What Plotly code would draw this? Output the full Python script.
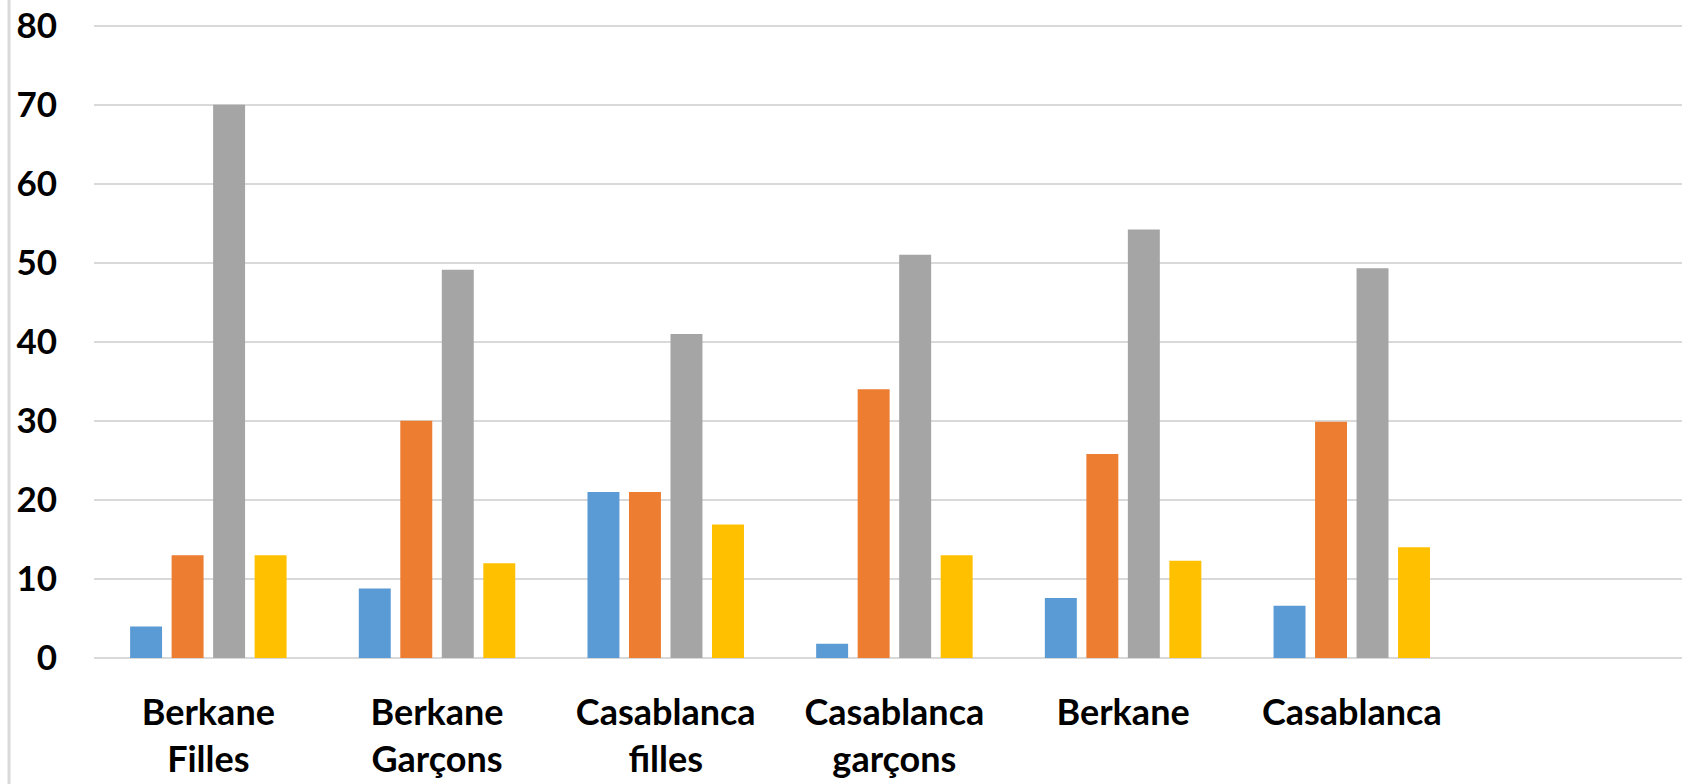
import plotly.graph_objects as go

categories = [
    "Berkane<br>Filles",
    "Berkane<br>Garçons",
    "Casablanca<br>filles",
    "Casablanca<br>garçons",
    "Berkane",
    "Casablanca",
]
serie_1 = [4, 8.8, 21, 1.8, 7.6, 6.6]
serie_2 = [13, 30, 21, 34, 25.8, 29.9]
serie_3 = [70, 49.1, 41, 51, 54.2, 49.3]
serie_4 = [13, 12, 16.9, 13, 12.3, 14]
y_ticks = [0, 10, 20, 30, 40, 50, 60, 70, 80]

COLORS = ["#5B9BD5", "#ED7D31", "#A5A5A5", "#FFC000"]
FONT = dict(family="Lato, 'Open Sans', sans-serif", size=34, color="#000000")

fig = go.Figure()
for name, vals, color in zip(
    ["Série 1", "Série 2", "Série 3", "Série 4"],
    [serie_1, serie_2, serie_3, serie_4],
    COLORS,
):
    fig.add_trace(go.Bar(x=categories, y=vals, name=name, marker_color=color,
                         marker_line_width=0))

fig.update_layout(
    barmode="group",
    bargap=0.274,
    bargroupgap=0.23,
    showlegend=False,
    plot_bgcolor="#ffffff",
    paper_bgcolor="#ffffff",
    font=FONT,
    width=1682,
    height=784,
    margin=dict(l=94, r=0, t=24, b=126, pad=0),
)
fig.update_xaxes(
    type="category",
    range=[-0.5, 6.444],
    automargin=False,
    showgrid=False,
    showline=False,
    ticks="outside",
    ticklen=23,
    tickcolor="rgba(0,0,0,0)",
    tickfont=dict(FONT, size=36, weight="bold"),
    ticklabeloverflow="allow",
)
fig.update_yaxes(
    range=[0, 80.2],
    tickvals=y_ticks,
    automargin=False,
    showgrid=True,
    gridcolor="#D9D9D9",
    gridwidth=1.5,
    zeroline=True,
    zerolinecolor="#D9D9D9",
    zerolinewidth=1.5,
    showline=False,
    ticks="outside",
    ticklen=29,
    tickcolor="rgba(0,0,0,0)",
    tickfont=dict(FONT, size=35, weight="bold"),
    ticklabeloverflow="allow",
)
# light frame edge on the far left
fig.add_shape(type="line", xref="paper", yref="paper",
              x0=-0.0535, x1=-0.0535, y0=-0.3, y1=1.1,
              line=dict(color="#D9D9D9", width=3))

# drop the default body margin so the figure sits at the window's corner
fig.write_html("out.html", config={"displayModeBar": False},
               post_script="document.body.style.margin='0';")
